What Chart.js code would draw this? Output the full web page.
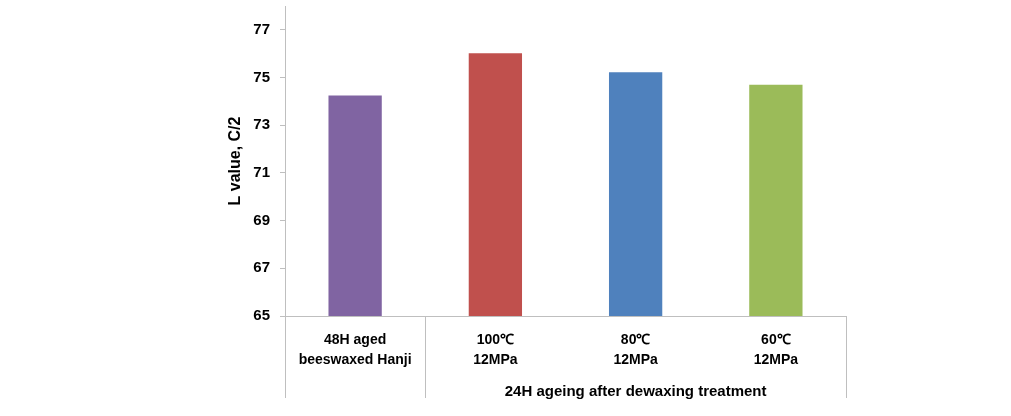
<!DOCTYPE html>
<html>
<head>
<meta charset="utf-8">
<script src="https://cdn.jsdelivr.net/npm/chart.js@4/dist/chart.umd.min.js"></script>
<style>
  html, body { margin: 0; padding: 0; background: #fff; }
  #wrap { width: 1011px; height: 416px; }
</style>
</head>
<body>
<div id="wrap"><canvas id="lChart" width="1011" height="416"></canvas></div>
<script>
// data
const categories = [['48H aged', 'beeswaxed Hanji'], ['100\u2103', '12MPa'], ['80\u2103', '12MPa'], ['60\u2103', '12MPa']];
const lValues = [74.25, 76.02, 75.22, 74.7];
const barColors = ['#8064a2', '#c0504d', '#4f81bd', '#9bbb59'];
const groupLabels = ['', '24H ageing after dewaxing treatment'];
const groupSizes = [1, 3];
const yTicks = [65, 67, 69, 71, 73, 75, 77];
const yMin = 65, yMax = 78;

const axisGray = '#bfbfbf';
const fontFamily = '"Liberation Sans", Arial, sans-serif';

// category group brackets below the x axis
const groupAxis = {
    id: 'groupAxis',
    afterDraw(chart) {
        const x = chart.scales.x;
        const ctx = chart.ctx;
        const top = chart.chartArea.bottom;
        const bottom = 398;
        const edge = i => {
            if (i <= 0) return x.left;
            if (i >= categories.length) return x.right;
            return (x.getPixelForValue(i - 1) + x.getPixelForValue(i)) / 2;
        };
        ctx.save();
        ctx.strokeStyle = axisGray;
        ctx.lineWidth = 1;
        let start = 0;
        const bounds = [0];
        groupSizes.forEach(n => { start += n; bounds.push(start); });
        bounds.forEach(b => {
            const px = Math.round(edge(b)) + 0.5;
            ctx.beginPath();
            ctx.moveTo(px, top);
            ctx.lineTo(px, bottom);
            ctx.stroke();
        });
        ctx.fillStyle = '#000';
        ctx.font = 'bold 15px ' + fontFamily;
        ctx.textAlign = 'center';
        ctx.textBaseline = 'middle';
        for (let g = 0; g < groupLabels.length; g++) {
            const cx = (edge(bounds[g]) + edge(bounds[g + 1])) / 2;
            ctx.fillText(groupLabels[g], cx, 392);
        }
        ctx.restore();
    }
};

new Chart(document.getElementById('lChart'), {
    type: 'bar',
    data: {
        labels: categories,
        datasets: [{
            data: lValues,
            backgroundColor: barColors,
            borderWidth: 0,
            barPercentage: 0.38,
            categoryPercentage: 1,
        }],
    },
    options: {
        responsive: false,
        animation: false,
        layout: {
            padding: { left: 226, right: 165, top: 6, bottom: 0 },
        },
        plugins: {
            legend: { display: false },
            tooltip: { enabled: false },
        },
        scales: {
            x: {
                grid: { display: false },
                border: { color: axisGray },
                ticks: {
                    color: '#000',
                    font: { family: fontFamily, size: 14, weight: 'bold', lineHeight: 1.45 },
                    padding: 6,
                    maxRotation: 0,
                    autoSkip: false,
                },
                afterFit: s => { s.height = 100; s.paddingLeft = 0; s.paddingRight = 0; },
            },
            y: {
                min: yMin,
                max: yMax,
                grid: {
                    drawOnChartArea: false,
                    drawTicks: true,
                    tickLength: 5,
                    color: axisGray,
                },
                border: { color: axisGray },
                ticks: {
                    color: '#000',
                    padding: 10,
                    font: { family: fontFamily, size: 15, weight: 'bold' },
                },
                afterBuildTicks: s => { s.ticks = yTicks.map(v => ({ value: v })); },
                title: {
                    display: true,
                    text: 'L value, C/2',
                    color: '#000',
                    font: { family: fontFamily, size: 16, weight: 'bold' },
                    padding: 0,
                },
                afterFit: s => { s.width = 59; s.paddingTop = 0; s.paddingBottom = 0; },
            },
        },
    },
    plugins: [groupAxis],
});
</script>
</body>
</html>
